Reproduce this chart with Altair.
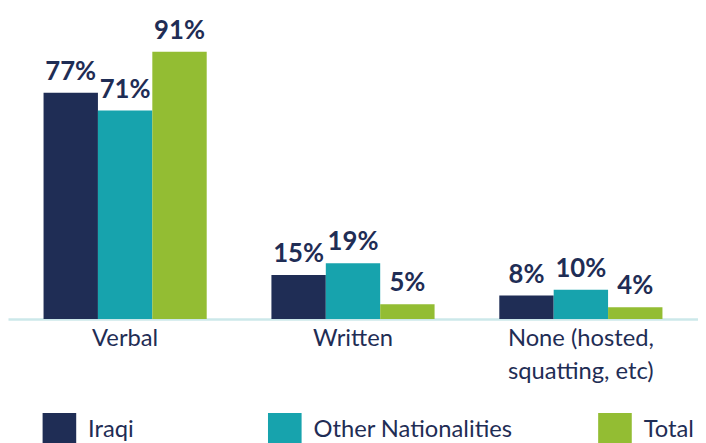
import altair as alt
import pandas as pd

categories = ["Verbal", "Written", "None (hosted, squatting, etc)"]
series = ["Iraqi", "Other Nationalities", "Total"]
iraqi = [77, 15, 8]
other = [71, 19, 10]
total = [91, 5, 4]
colors = ["#1f2d55", "#17a3ad", "#93bd33"]

rows = []
for i, c in enumerate(categories):
    for s, vals in zip(series, [iraqi, other, total]):
        rows.append({"category": c, "series": s, "value": vals[i],
                     "label": f"{vals[i]}%"})
df = pd.DataFrame(rows)

FONT = "Lato"
NAVY = "#1f2d55"
PAD = "\u00a0" * 8 + "\u200b"

x = alt.X("category:N", sort=categories, title=None,
          scale=alt.Scale(paddingInner=0, paddingOuter=0.014),
          axis=alt.Axis(labelAngle=0, ticks=False, grid=False,
                        domainColor="#cce8ea", domainWidth=2.5,
                        labelFont=FONT, labelFontSize=24, labelColor=NAVY,
                        labelPadding=8, labelLineHeight=33,
                        labelExpr="datum.label == 'None (hosted, squatting, etc)' ? ['None (hosted,', 'squatting, etc)'] : datum.label"))
xo = alt.XOffset("series:N", sort=series,
                 scale=alt.Scale(paddingInner=0, paddingOuter=0.595))
y = alt.Y("value:Q", title=None,
          scale=alt.Scale(domain=[0, 105]),
          axis=None)

bars = alt.Chart(df).mark_bar().encode(
    x=x, xOffset=xo, y=y,
    color=alt.Color("series:N", sort=series,
                    scale=alt.Scale(domain=series, range=colors),
                    legend=alt.Legend(
                        title=None, orient="none", direction="horizontal",
                        legendX=35, legendY=407, padding=0,
                        symbolType="square", symbolSize=1156,
                        symbolStrokeWidth=0, symbolOpacity=1,
                        labelFont=FONT, labelFontSize=24, labelColor=NAVY,
                        labelOffset=12, columnPadding=86, labelLimit=400,
                        labelExpr=f"datum.label == 'Iraqi' ? 'Iraqi{PAD}' : datum.label")),
)

labels = alt.Chart(df).mark_text(
    font=FONT, fontSize=26, fontWeight="bold", color=NAVY,
    baseline="alphabetic", dy=-13
).encode(x=x, xOffset=xo, y=y, text="label:N")

chart = alt.layer(bars, labels).properties(
    width=698, height=312,
    padding={"left": 0, "top": 0, "right": 0, "bottom": 140},
    autosize=alt.AutoSizeParams(type="none"),
).configure_view(stroke=None)

chart.save("out.html", embed_options={"renderer": "svg", "actions": False})
